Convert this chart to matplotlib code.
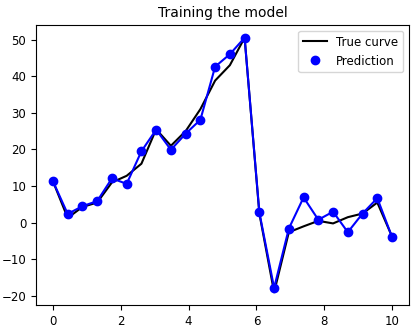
import numpy as np
import matplotlib
matplotlib.use('Agg')
import matplotlib.pyplot as plt

x = np.linspace(0, 10, 24)
y_true = [11.3, 1.3, 4.3, 5.5, 11.0, 12.8, 16.1, 25.5, 21.0, 25.0, 31.0, 38.8,
          43.0, 50.5, 2.5, -19.0, -2.6, -1.0, 0.5, -0.2, 1.5, 2.5, 5.5, -3.8]
y_pred = [11.3, 2.4, 4.5, 5.9, 12.1, 10.6, 19.5, 25.4, 19.9, 24.3, 28.1, 42.6,
          46.0, 50.5, 2.8, -17.8, -1.6, 6.9, 0.8, 3.0, -2.6, 2.5, 6.7, -3.9]

fig = plt.figure(figsize=(4.11, 3.25), dpi=100)
plt.subplots_adjust(left=36/411, right=409/411, bottom=1-305/325, top=1-25/325)
plt.plot(x, y_true, 'k-', label='True curve')
plt.plot(x, y_pred, 'b-')
plt.plot(x, y_pred, 'bo', label='Prediction')
plt.title('Training the model', fontsize=10)
plt.legend(fontsize=8.5)
plt.xticks(fontsize=8.5)
plt.yticks(fontsize=8.5)
plt.savefig('out.png')
